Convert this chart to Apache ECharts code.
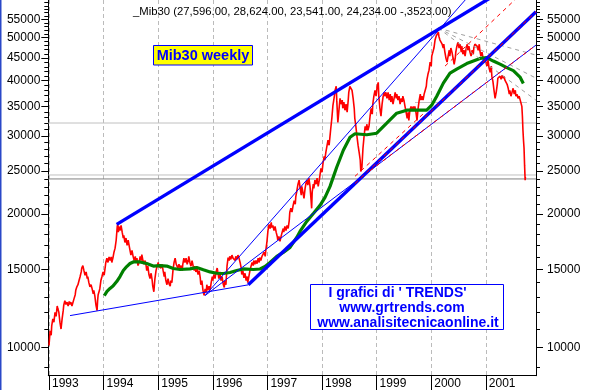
<!DOCTYPE html>
<html><head><meta charset="utf-8">
<script src="https://cdn.jsdelivr.net/npm/echarts@6/dist/echarts.min.js"></script>
<style>html,body{margin:0;padding:0;background:#fff;}#c{width:608px;height:390px;}</style>
</head><body><div id="c"></div>
<script>
// ---------- data ----------
const yearTicks = [1993,1994,1995,1996,1997,1998,1999,2000,2001];
const yLabelValues = [10000,15000,20000,25000,30000,35000,40000,45000,50000,55000];
const yMinorValues = [9000,10000,11000,12000,13000,14000,15000,16000,17000,18000,19000,20000,21000,22000,23000,24000,25000,26000,27000,28000,29000,30000,31000,32000,33000,34000,35000,36000,37000,38000,39000,40000,41000,42000,43000,44000,45000,46000,47000,48000,49000,50000,51000,52000,53000,54000,55000,56000,57000,58000,59000,60000];
const titleText = "_Mib30 (27,596.00, 28,624.00, 23,541.00, 24,234.00 -,3523.00)";

// weekly price (decimal year, index level)
const priceData = [
[1993.00,10100],[1993.01,10050],[1993.02,10900],[1993.04,10650],[1993.05,11200],[1993.07,11600],[1993.09,11400],[1993.11,12000],[1993.13,11750],[1993.15,12400],
[1993.16,12250],[1993.18,12000],[1993.20,11400],[1993.22,11000],[1993.24,11600],[1993.26,12100],[1993.27,12450],[1993.29,12750],[1993.31,12500],[1993.33,12650],
[1993.35,12400],[1993.37,12700],[1993.38,12500],[1993.40,12650],[1993.42,12400],[1993.44,12500],[1993.46,12900],[1993.48,13150],[1993.49,13450],[1993.51,13700],
[1993.53,13850],[1993.55,14150],[1993.57,14450],[1993.59,14800],[1993.60,15100],[1993.62,15300],[1993.64,14900],[1993.66,14550],[1993.68,14800],[1993.70,14300],
[1993.71,14450],[1993.73,14000],[1993.75,13700],[1993.77,13850],[1993.79,13550],[1993.81,13200],[1993.82,13450],[1993.84,13050],[1993.86,12450],[1993.88,12100],
[1993.89,12750],[1993.90,13150],[1993.92,13050],[1993.93,13550],[1993.95,14150],[1993.97,14450],[1993.99,14800],[1994.01,14550],[1994.03,15200],[1994.04,15550],
[1994.06,15900],[1994.08,15550],[1994.10,16000],[1994.12,15700],[1994.14,16000],[1994.15,15550],[1994.17,15900],[1994.19,16400],[1994.21,16750],[1994.23,17450],
[1994.25,18750],[1994.26,19050],[1994.27,18200],[1994.28,18750],[1994.30,18350],[1994.32,18850],[1994.34,18200],[1994.36,17650],[1994.37,17900],[1994.39,17250],
[1994.41,17650],[1994.43,17000],[1994.45,17450],[1994.47,16900],[1994.48,16750],[1994.50,16150],[1994.52,16550],[1994.54,16050],[1994.56,15700],[1994.58,16050],
[1994.59,15550],[1994.61,15900],[1994.63,15300],[1994.65,15550],[1994.67,16050],[1994.69,15700],[1994.70,16200],[1994.72,15700],[1994.74,15400],[1994.76,15700],
[1994.78,15250],[1994.79,14900],[1994.81,15250],[1994.83,14600],[1994.85,14300],[1994.87,14700],[1994.89,14150],[1994.90,13750],[1994.92,13350],[1994.94,14300],
[1994.96,14900],[1994.98,15250],[1995.00,15550],[1995.01,15250],[1995.03,15400],[1995.05,15100],[1995.07,15400],[1995.09,14900],[1995.11,14450],[1995.12,14800],
[1995.14,14150],[1995.16,13850],[1995.18,14300],[1995.20,13900],[1995.22,13750],[1995.23,14150],[1995.25,14000],[1995.27,14900],[1995.29,15550],[1995.31,15900],
[1995.33,15400],[1995.34,15550],[1995.36,15100],[1995.38,15400],[1995.40,15100],[1995.42,15300],[1995.44,14900],[1995.45,15400],[1995.47,15900],[1995.49,15550],
[1995.51,15900],[1995.53,15400],[1995.55,15700],[1995.56,16050],[1995.58,15550],[1995.60,15250],[1995.62,15700],[1995.64,15250],[1995.66,14900],[1995.67,15250],
[1995.69,14800],[1995.71,15100],[1995.73,14600],[1995.75,14900],[1995.77,14350],[1995.78,13850],[1995.80,14150],[1995.82,13450],[1995.84,13100],[1995.86,13550],
[1995.88,13300],[1995.89,13850],[1995.91,13450],[1995.93,13750],[1995.95,13450],[1995.97,14000],[1995.99,14450],[1996.00,14150],[1996.02,14600],[1996.04,14300],
[1996.06,14800],[1996.08,15100],[1996.10,14600],[1996.11,14300],[1996.13,14800],[1996.15,14150],[1996.17,14450],[1996.19,13900],[1996.21,13650],[1996.22,14150],
[1996.24,13850],[1996.26,15250],[1996.28,15950],[1996.30,15700],[1996.31,16050],[1996.33,15800],[1996.35,16150],[1996.37,15900],[1996.39,16050],[1996.41,15700],
[1996.42,16050],[1996.44,15800],[1996.46,16150],[1996.48,15900],[1996.50,15550],[1996.52,15100],[1996.53,14600],[1996.55,14900],[1996.57,14350],[1996.59,14700],
[1996.61,14150],[1996.63,14450],[1996.64,14000],[1996.66,14450],[1996.68,14900],[1996.70,15250],[1996.72,15550],[1996.74,15300],[1996.75,15700],[1996.77,15400],
[1996.79,15700],[1996.81,15450],[1996.83,15900],[1996.85,15550],[1996.86,15950],[1996.88,15700],[1996.90,16050],[1996.92,15900],[1996.94,16400],[1996.96,16050],
[1996.97,16550],[1996.99,17250],[1997.01,18350],[1997.03,18950],[1997.05,18550],[1997.07,19150],[1997.08,18650],[1997.10,18850],[1997.12,18350],[1997.14,18750],
[1997.16,18200],[1997.18,17800],[1997.19,17450],[1997.21,17800],[1997.23,17350],[1997.25,17800],[1997.27,18200],[1997.29,18550],[1997.30,18200],[1997.32,18750],
[1997.34,18350],[1997.36,18850],[1997.38,18550],[1997.40,19350],[1997.41,20200],[1997.43,20600],[1997.45,20200],[1997.47,20900],[1997.49,21450],[1997.51,21050],
[1997.52,21900],[1997.54,22600],[1997.56,23350],[1997.58,23850],[1997.60,22850],[1997.62,22050],[1997.63,23100],[1997.65,22400],[1997.67,21700],[1997.69,22850],
[1997.71,23600],[1997.73,23850],[1997.74,23250],[1997.76,24100],[1997.78,23100],[1997.80,21450],[1997.81,20600],[1997.82,22400],[1997.84,23350],[1997.85,22850],
[1997.87,23850],[1997.89,23350],[1997.91,24100],[1997.93,23100],[1997.95,23850],[1997.96,24350],[1997.98,25350],[1998.00,24850],[1998.02,26150],[1998.04,27000],
[1998.05,26450],[1998.07,27550],[1998.09,28450],[1998.11,29350],[1998.13,28600],[1998.15,30300],[1998.16,31200],[1998.18,32900],[1998.20,35200],[1998.22,36500],
[1998.24,38050],[1998.26,38850],[1998.27,36150],[1998.29,32200],[1998.31,34300],[1998.33,36500],[1998.35,35400],[1998.37,36150],[1998.38,34650],[1998.40,35800],
[1998.42,34300],[1998.44,35400],[1998.46,33950],[1998.48,36150],[1998.49,37650],[1998.51,38850],[1998.53,39250],[1998.55,38050],[1998.57,36500],[1998.59,34650],
[1998.60,32900],[1998.62,31550],[1998.64,29950],[1998.66,28600],[1998.68,27550],[1998.70,26450],[1998.71,24950],[1998.73,25450],[1998.75,28150],[1998.77,29950],
[1998.79,31550],[1998.81,30900],[1998.82,31900],[1998.84,30900],[1998.86,31550],[1998.88,33250],[1998.90,34650],[1998.92,33600],[1998.93,35400],[1998.95,36900],
[1998.97,38050],[1998.99,36900],[1999.01,38850],[1999.03,39650],[1999.04,36900],[1999.06,34650],[1999.08,33250],[1999.10,35400],[1999.12,36900],[1999.14,37650],
[1999.15,36900],[1999.17,37650],[1999.19,36500],[1999.21,37650],[1999.23,36150],[1999.25,37300],[1999.26,35800],[1999.28,36900],[1999.30,35400],[1999.32,36500],
[1999.34,37650],[1999.36,36500],[1999.37,37300],[1999.39,36150],[1999.41,36900],[1999.43,35400],[1999.45,36500],[1999.47,35800],[1999.48,36900],[1999.50,36150],
[1999.52,35000],[1999.54,33950],[1999.56,32900],[1999.58,33950],[1999.59,32550],[1999.61,34300],[1999.63,35000],[1999.65,34300],[1999.67,35000],[1999.69,34300],
[1999.70,35000],[1999.72,33950],[1999.74,32550],[1999.76,34650],[1999.78,36150],[1999.80,37300],[1999.81,36150],[1999.83,36900],[1999.85,36150],[1999.87,37300],
[1999.89,38050],[1999.91,38850],[1999.92,40100],[1999.94,41350],[1999.96,42250],[1999.98,44050],[2000.00,43150],[2000.01,45450],[2000.03,46400],[2000.05,47400],
[2000.07,49400],[2000.09,50400],[2000.11,50950],[2000.13,51500],[2000.14,50400],[2000.16,49400],[2000.18,49900],[2000.20,48350],[2000.22,47400],[2000.23,48350],
[2000.25,46400],[2000.27,44950],[2000.29,44050],[2000.31,45450],[2000.33,46850],[2000.34,45450],[2000.36,47400],[2000.38,46400],[2000.40,44950],[2000.42,43550],
[2000.44,44950],[2000.45,46400],[2000.47,47850],[2000.49,48850],[2000.51,47400],[2000.53,48350],[2000.55,46400],[2000.56,47850],[2000.58,45900],[2000.60,46850],
[2000.62,45450],[2000.64,47400],[2000.66,48350],[2000.67,46850],[2000.69,47850],[2000.71,46400],[2000.73,45450],[2000.75,46850],[2000.77,45900],[2000.78,47400],
[2000.80,48350],[2000.82,48850],[2000.84,47850],[2000.86,46850],[2000.88,48350],[2000.89,46850],[2000.91,45450],[2000.93,46400],[2000.95,44950],[2000.97,44050],
[2000.99,44950],[2001.00,44050],[2001.02,43150],[2001.04,44500],[2001.06,42700],[2001.08,41800],[2001.10,43150],[2001.11,40950],[2001.13,39850],[2001.15,38050],
[2001.17,36500],[2001.19,37650],[2001.21,39250],[2001.22,40500],[2001.24,40100],[2001.26,40950],[2001.28,40300],[2001.30,41150],[2001.32,40500],[2001.33,40950],
[2001.35,40100],[2001.37,40500],[2001.39,39250],[2001.41,38450],[2001.43,37300],[2001.44,38050],[2001.46,36900],[2001.48,37650],[2001.50,38450],[2001.52,37300],
[2001.54,38050],[2001.55,36900],[2001.57,37300],[2001.59,36500],[2001.61,36900],[2001.63,36150],[2001.65,36500],[2001.66,35000],[2001.67,33250],[2001.68,30900],
[2001.69,29350],[2001.70,28150],[2001.71,25750],[2001.72,23850],[2001.725,24250]
];

// moving average (green)
const maData = [
[1994.013,13090],[1994.062,13370],[1994.117,13580],[1994.172,13750],[1994.240,14080],[1994.300,14450],[1994.361,14910],[1994.423,15220],[1994.483,15460],[1994.544,15590],
[1994.666,15590],[1994.789,15460],[1994.910,15260],[1995.033,15300],[1995.156,15260],[1995.277,15070],[1995.399,14990],[1995.582,15040],[1995.705,15150],[1995.826,14970],
[1995.949,14800],[1996.071,14700],[1996.192,14680],[1996.315,14760],[1996.438,14910],[1996.559,15030],[1996.742,14990],[1996.865,15030],[1996.956,15220],[1997.048,15540],
[1997.171,16040],[1997.291,16380],[1997.414,16810],[1997.537,17710],[1997.597,18270],[1997.720,19250],[1997.841,20060],[1997.964,20920],[1998.055,21810],[1998.147,23090],
[1998.269,25500],[1998.390,27860],[1998.513,29810],[1998.604,30360],[1998.819,30200],[1999.002,30440],[1999.185,32060],[1999.368,33780],[1999.551,34310],[1999.917,34310],
[2000.009,35210],[2000.101,36900],[2000.222,39490],[2000.344,41600],[2000.467,42480],[2000.650,43710],[2000.894,44910],[2001.016,45100],[2001.137,44290],[2001.260,43600],
[2001.383,42810],[2001.504,42150],[2001.626,40750],[2001.687,39430]
];

// trend lines (start, end)
const upperTrend   = [[1994.240,18950],[2001.919,71050]];
const mainTrend    = [[1996.650,13840],[2001.919,57240]];
const baseTrend    = [[1993.385,11795],[1996.650,13840]];
const fanSteep     = [[1995.857,13090],[2000.711,62610]];
const fanShallow   = [[1995.857,13090],[2001.919,48130]];
const redOnMain    = [[1998.604,23430],[2001.919,57240]];
const redOnShallow = [[1998.879,25050],[2001.919,48130]];
const redUpper     = [[2000.253,43150],[2001.626,62450]];
const redNear      = [[1998.604,24330],[1999.886,33950]];
const peakFan1     = [[2000.125,52590],[2001.919,45690]];
const peakFan2     = [[2000.125,52590],[2001.919,40530]];
const peakFan3     = [[2000.125,52590],[2001.919,36130]];
const lightLevels  = [32100, 24500];
const darkLevels   = [24000];
const partialLevel = [[1999.703,35710],[2001.755,35710]];

const xMin = 1992.987, xMax = 2001.919;
const yMin = 8630, yMax = 60840;

// ---------- chart ----------
const chart = echarts.init(document.getElementById('c'), null, {renderer:'canvas'});
const FONT = '"Liberation Sans", Arial, sans-serif';

function seg(data, color, width, type, z) {
  return {type:'line', data:data, xAxisIndex:0, yAxisIndex:0, symbol:'none', silent:true,
    lineStyle:{color:color, width:width, type:type||'solid'}, z:z||2, clip:true, animation:false};
}
const series = [];
lightLevels.forEach(v => series.push(seg([[xMin,v],[xMax,v]], '#c0c0c0', 1, 'solid', 1)));
darkLevels.forEach(v => series.push(seg([[xMin,v],[xMax,v]], '#808080', 1, 'solid', 1)));
series.push(seg(partialLevel, '#c0c0c0', 1, 'solid', 1));
series.push(seg(priceData, '#ff0000', 1.6, 'solid', 2));
series.push(seg(maData, '#008000', 3.2, 'solid', 3));
series.push(seg(peakFan1, '#a0a0a0', 1, [4,4], 3));
series.push(seg(peakFan2, '#a0a0a0', 1, [4,4], 3));
series.push(seg(peakFan3, '#a0a0a0', 1, [4,4], 3));
series.push(seg(baseTrend, '#0000ff', 1, 'solid', 4));
series.push(seg(fanSteep, '#0000ff', 1, 'solid', 4));
series.push(seg(fanShallow, '#0000ff', 1, 'solid', 4));
series.push(seg(upperTrend, '#0000ff', 3.4, 'solid', 4));
series.push(seg(mainTrend, '#0000ff', 3.4, 'solid', 4));
series.push(seg(redOnMain, '#ff0000', 1, [4,4], 5));
series.push(seg(redOnShallow, '#ff0000', 1, [4,4], 5));
series.push(seg(redUpper, '#ff0000', 1, [4,4], 5));
series.push(seg(redNear, '#ff0000', 1, [4,4], 5));

function yAx(pos, major) {
  return {
    type:'log', logBase:10, min:yMin, max:yMax, position:pos,
    axisLine:{show:major, lineStyle:{color:'#000', width:1}},
    axisTick:{show:true, customValues: major ? yLabelValues : yMinorValues, length: major ? 7 : 4, lineStyle:{color:'#000', width:1}},
    axisLabel:{show:major, customValues: yLabelValues, margin: pos==='left' ? 8 : 11, fontSize:12, color:'#000', fontFamily:FONT,
      formatter: v => String(Math.round(v))},
    splitLine:{show:false}, minorTick:{show:false}
  };
}

chart.setOption({
  backgroundColor:'#ffffff',
  animation:false,
  grid:{left:48.3, right:72, top:0, bottom:14.3, containLabel:false},
  xAxis:{
    type:'value', min:xMin, max:xMax,
    axisLine:{show:true, onZero:false, lineStyle:{color:'#000', width:1}},
    axisTick:{show:true, customValues:yearTicks, length:15, lineStyle:{color:'#000', width:1}},
    axisLabel:{show:true, customValues:yearTicks, align:'left', margin:2, padding:[0,0,0,3],
      fontSize:12, color:'#000', fontFamily:FONT, formatter: v => String(Math.round(v))},
    splitLine:{show:true, lineStyle:{color:'#bbbbbb', width:1, type:[4,3]}}
  },
  yAxis:[yAx('left', true), yAx('left', false), yAx('right', true), yAx('right', false)],
  series: series,
  graphic:[
    {type:'rect', silent:true, z:100, shape:{x:0, y:0, width:1.5, height:390}, style:{fill:'#2a48c8'}},
    {type:'text', silent:true, z:100, x:133, y:12.3, style:{text:titleText, font:'11.3px ' + FONT, fill:'#000', align:'left', verticalAlign:'middle'}},
    {type:'rect', silent:true, z:100, shape:{x:153.5, y:45.5, width:99, height:19.5}, style:{fill:'#ffff00', stroke:'#0000ff', lineWidth:1}},
    {type:'text', silent:true, z:101, x:203, y:55.5, style:{text:'Mib30 weekly', font:'bold 14.5px ' + FONT, fill:'#0000ff', align:'center', verticalAlign:'middle'}},
    {type:'rect', silent:true, z:100, shape:{x:310.5, y:284.5, width:193, height:45}, style:{fill:'#ffffff', stroke:'#0000ff', lineWidth:1}},
    {type:'text', silent:true, z:101, x:397.5, y:292.7, style:{text:"I grafici di ' TRENDS'", font:'bold 14px ' + FONT, fill:'#0000ff', align:'center', verticalAlign:'middle'}},
    {type:'text', silent:true, z:101, x:402, y:307.7, style:{text:'www.grtrends.com', font:'bold 14px ' + FONT, fill:'#0000ff', align:'center', verticalAlign:'middle'}},
    {type:'text', silent:true, z:101, x:408, y:322.7, style:{text:'www.analisitecnicaonline.it', font:'bold 14px ' + FONT, fill:'#0000ff', align:'center', verticalAlign:'middle'}}
  ]
});
</script>
</body></html>
